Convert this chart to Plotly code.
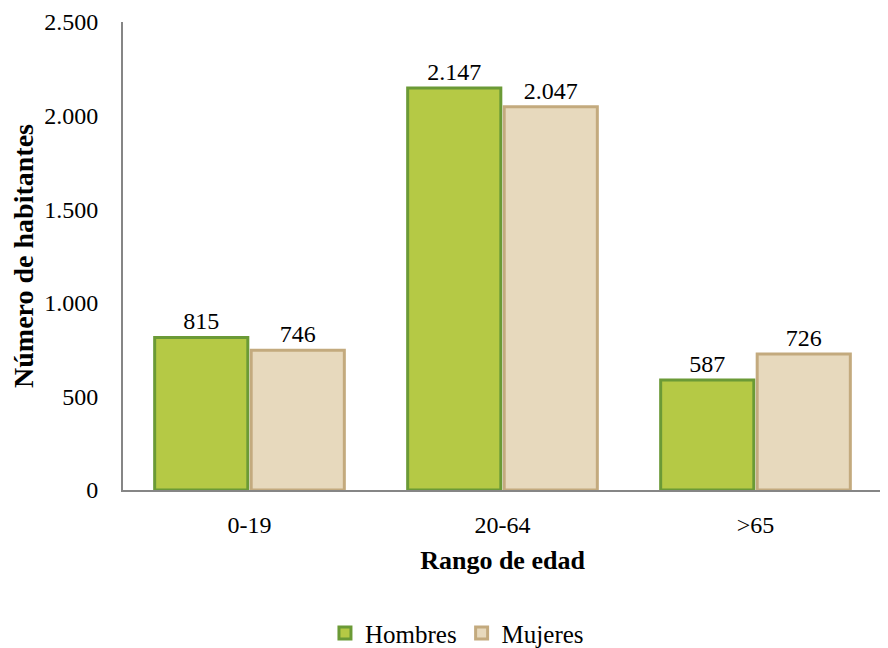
import plotly.graph_objects as go

categories = ["0-19", "20-64", ">65"]
hombres = [815, 2147, 587]
mujeres = [746, 2047, 726]
y_ticks = [0, 500, 1000, 1500, 2000, 2500]
y_tick_labels = ["0", "500", "1.000", "1.500", "2.000", "2.500"]

def fmt(v):
    return f"{v:,}".replace(",", ".")

FONT = "Liberation Serif"

fig = go.Figure()
fig.add_trace(go.Bar(
    name="Hombres", x=categories, y=hombres,
    text=[fmt(v) for v in hombres], textposition="outside",
    marker=dict(color="#B5C945", line=dict(color="#6B9A36", width=3)),
    textfont=dict(size=24, color="#000000", family=FONT), cliponaxis=False,
))
fig.add_trace(go.Bar(
    name="Mujeres", x=categories, y=mujeres,
    text=[fmt(v) for v in mujeres], textposition="outside",
    marker=dict(color="#E7D9BD", line=dict(color="#C3AA7E", width=3)),
    textfont=dict(size=24, color="#000000", family=FONT), cliponaxis=False,
))

fig.update_layout(
    width=880, height=640,
    margin=dict(l=115, r=6, t=14, b=158, autoexpand=False),
    paper_bgcolor="white", plot_bgcolor="white",
    font=dict(family=FONT, size=24, color="#000000"),
    barmode="group", bargap=0.237, bargroupgap=0.035,
    showlegend=True,
    legend=dict(orientation="h", x=0.44, xanchor="center", y=-0.306, yanchor="middle",
                font=dict(size=25, family=FONT), itemwidth=30, tracegroupgap=0),
    xaxis=dict(
        showline=True, linecolor="#868686", linewidth=2,
        ticks="", showgrid=False, ticklabelstandoff=12,
        tickfont=dict(family=FONT, size=24),
        title=dict(text="<b>Rango de edad</b>", font=dict(size=26, family=FONT), standoff=14),
    ),
    yaxis=dict(
        range=[0, 2500], tickvals=y_ticks, ticktext=y_tick_labels,
        showline=True, linecolor="#868686", linewidth=2,
        ticks="", showgrid=False, zeroline=False, ticklabelstandoff=18,
        tickfont=dict(family=FONT, size=24),
        title=dict(text="<b>Número de habitantes</b>", font=dict(size=28, family=FONT), standoff=10),
    ),
)

fig.write_html("out.html")
